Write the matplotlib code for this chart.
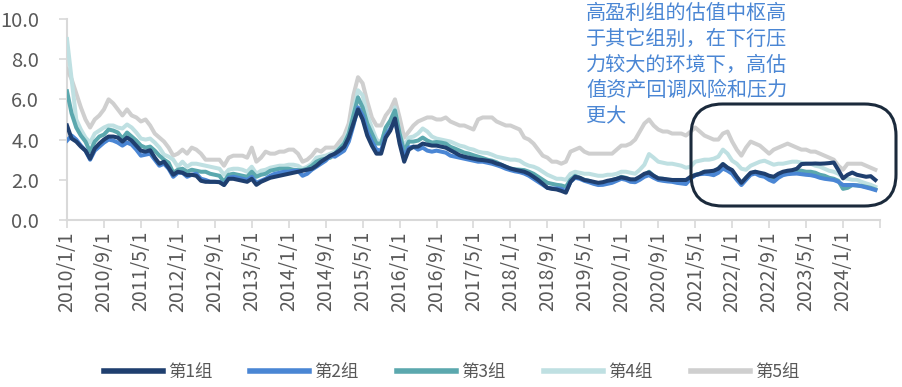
"""Valuation by profitability group, 2010-2024 (monthly), with annotation box."""
import matplotlib

matplotlib.use("Agg")
import matplotlib.pyplot as plt  # noqa: E402
import numpy as np  # noqa: E402
import pandas as pd  # noqa: E402
from matplotlib.patches import FancyBboxPatch  # noqa: E402

plt.rcParams["font.family"] = ["Noto Sans CJK SC", "DejaVu Sans"]

dates = pd.date_range("2010-01-01", periods=176, freq="MS")
series_names = ["第1组", "第2组", "第3组", "第4组", "第5组"]
colors = ["#1F3F6F", "#4A86D4", "#5BA8AE", "#BFE0E2", "#CFCFCF"]

# one row per calendar year (last row: 2024/1 - 2024/8)
g1 = [4.7, 4.05, 3.9, 3.65, 3.45, 3.05, 3.55, 3.8, 4.0, 4.15, 4.15, 4.1,
      3.9, 4.1, 3.95, 3.7, 3.45, 3.4, 3.47, 3.1, 2.8, 2.9, 2.6, 2.25,
      2.4, 2.35, 2.23, 2.25, 2.2, 1.95, 1.9, 1.9, 1.9, 1.88, 1.74, 2.05,
      2.05, 2.0, 1.95, 1.9, 2.05, 1.75, 1.9, 2.0, 2.1, 2.15, 2.2, 2.25,
      2.3, 2.35, 2.4, 2.45, 2.5, 2.55, 2.7, 2.9, 3.05, 3.2, 3.3, 3.45,
      3.64, 4.1, 4.8, 5.5, 5.0, 4.2, 3.7, 3.3, 3.3, 4.1, 4.45, 5.05,
      3.8, 2.9, 3.5, 3.64, 3.65, 3.8, 3.75, 3.7, 3.7, 3.65, 3.6, 3.47,
      3.35, 3.22, 3.15, 3.1, 3.05, 3.0, 2.98, 2.95, 2.9, 2.81, 2.75, 2.65,
      2.56, 2.5, 2.45, 2.4, 2.3, 2.15, 1.99, 1.8, 1.6, 1.55, 1.52, 1.45,
      1.36, 1.9, 2.15, 2.1, 1.99, 1.95, 1.9, 1.85, 1.88, 1.95, 1.99, 2.05,
      2.12, 2.08, 2.02, 2.02, 2.15, 2.3, 2.36, 2.2, 2.07, 2.05, 2.02, 1.99,
      1.99, 1.99, 1.99, 2.15, 2.23, 2.3, 2.4, 2.42, 2.45, 2.55, 2.78, 2.6,
      2.48, 2.15, 1.85, 2.1, 2.35, 2.4, 2.35, 2.3, 2.2, 2.15, 2.3, 2.4,
      2.45, 2.48, 2.55, 2.78, 2.8, 2.8, 2.81, 2.8, 2.81, 2.83, 2.86, 2.48,
      2.07, 2.25, 2.36, 2.25, 2.2, 2.15, 2.18, 1.99]
g2 = [3.95, 4.2, 4.0, 3.7, 3.45, 3.0, 3.45, 3.65, 3.85, 4.0, 3.95, 3.85,
      3.7, 3.85, 3.75, 3.5, 3.2, 3.25, 3.3, 3.0, 2.7, 2.8, 2.55, 2.15,
      2.35, 2.35, 2.15, 2.25, 2.3, 2.05, 1.99, 1.9, 1.9, 1.9, 1.75, 2.1,
      2.15, 2.1, 2.05, 1.99, 2.15, 1.85, 1.95, 2.05, 2.2, 2.3, 2.35, 2.4,
      2.4, 2.45, 2.45, 2.2, 2.3, 2.5, 2.65, 2.8, 2.95, 3.2, 3.15, 3.3,
      3.45, 3.9, 4.7, 5.6, 5.2, 4.4, 3.9, 3.5, 3.45, 4.2, 4.55, 4.95,
      3.95, 3.15, 3.6, 3.65, 3.5, 3.6, 3.45, 3.4, 3.45, 3.4, 3.35, 3.2,
      3.15, 3.1, 3.05, 3.0, 2.95, 2.9, 2.9, 2.85, 2.8, 2.73, 2.65, 2.55,
      2.48, 2.42, 2.38, 2.31, 2.2, 2.05, 1.9, 1.75, 1.6, 1.57, 1.57, 1.55,
      1.42, 1.9, 2.1, 2.05, 1.95, 1.88, 1.8, 1.74, 1.75, 1.8, 1.85, 1.95,
      2.05, 2.0, 1.9, 1.88, 2.0, 2.15, 2.23, 2.1, 1.99, 1.95, 1.92, 1.9,
      1.85, 1.82, 1.79, 2.05, 2.23, 2.28, 2.3, 2.28, 2.23, 2.35, 2.56, 2.45,
      2.3, 2.0, 1.74, 2.0, 2.25, 2.31, 2.2, 2.15, 2.0, 1.9, 2.1, 2.23,
      2.28, 2.3, 2.31, 2.28, 2.25, 2.23, 2.18, 2.1, 2.05, 2.02, 1.99, 1.9,
      1.74, 1.74, 1.74, 1.72, 1.68, 1.62, 1.56, 1.49]
g3 = [6.4, 5.3, 4.6, 4.2, 3.9, 3.4, 3.9, 4.15, 4.25, 4.5, 4.45, 4.35,
      4.05, 4.35, 4.15, 3.95, 3.7, 3.6, 3.65, 3.45, 3.2, 3.0, 2.85, 2.35,
      2.5, 2.55, 2.4, 2.5, 2.45, 2.4, 2.4, 2.3, 2.25, 2.2, 1.9, 2.25,
      2.3, 2.25, 2.2, 2.15, 2.4, 2.15, 2.25, 2.3, 2.45, 2.5, 2.55, 2.55,
      2.55, 2.5, 2.48, 2.48, 2.55, 2.7, 2.9, 3.0, 3.05, 3.1, 3.3, 3.55,
      3.8, 4.3, 5.2, 6.1, 5.6, 4.8, 4.3, 3.8, 3.8, 4.6, 4.95, 5.45,
      4.3, 3.4, 3.9, 3.9, 3.95, 4.1, 3.95, 3.85, 3.88, 3.85, 3.8, 3.64,
      3.55, 3.45, 3.35, 3.3, 3.22, 3.15, 3.08, 3.0, 2.95, 2.87, 2.75, 2.65,
      2.56, 2.52, 2.5, 2.48, 2.4, 2.3, 2.15, 2.0, 1.85, 1.8, 1.75, 1.72,
      1.65, 2.0, 2.2, 2.1, 2.0, 1.95, 1.85, 1.82, 1.85, 1.9, 1.99, 2.05,
      2.15, 2.1, 2.0, 1.99, 2.1, 2.25, 2.4, 2.2, 2.07, 2.05, 2.0, 1.99,
      1.95, 1.9, 1.85, 2.1, 2.25, 2.3, 2.4, 2.4, 2.4, 2.55, 2.78, 2.6,
      2.45, 2.1, 1.82, 2.1, 2.3, 2.4, 2.3, 2.23, 2.1, 1.99, 2.15, 2.3,
      2.35, 2.45, 2.48, 2.45, 2.4, 2.4, 2.35, 2.25, 2.2, 2.1, 2.05, 1.95,
      1.55, 1.6, 1.74, 1.72, 1.7, 1.65, 1.6, 1.52]
g4 = [9.0, 7.0, 5.0, 4.5, 4.1, 3.85, 4.3, 4.45, 4.6, 4.7, 4.7, 4.6,
      4.55, 4.75, 4.6, 4.35, 4.05, 4.0, 4.05, 3.85, 3.6, 3.25, 3.15, 3.0,
      2.65, 2.9, 2.65, 2.8, 2.8, 2.75, 2.7, 2.65, 2.6, 2.55, 2.25, 2.5,
      2.55, 2.55, 2.5, 2.4, 2.65, 2.3, 2.45, 2.5, 2.6, 2.65, 2.7, 2.7,
      2.75, 2.75, 2.7, 2.55, 2.65, 2.8, 3.1, 3.15, 3.2, 3.3, 3.4, 3.6,
      3.9, 4.5, 5.4, 6.45, 6.2, 5.2, 4.6, 4.0, 3.85, 4.55, 4.9, 5.6,
      4.4, 3.65, 4.1, 4.15, 4.3, 4.55, 4.4, 4.15, 4.05, 4.0, 3.95, 3.9,
      3.8, 3.7, 3.65, 3.55, 3.5, 3.4, 3.35, 3.33, 3.25, 3.15, 3.1, 3.05,
      3.0, 3.0, 2.95, 2.8, 2.7, 2.65, 2.55, 2.4, 2.25, 2.15, 2.05, 2.05,
      2.0, 2.3, 2.4, 2.35, 2.3, 2.3, 2.25, 2.2, 2.2, 2.25, 2.25, 2.3,
      2.4, 2.4, 2.35, 2.3, 2.5, 2.75, 3.28, 3.1, 2.9, 2.85, 2.8, 2.8,
      2.75, 2.7, 2.6, 2.65, 2.9, 2.95, 3.0, 3.0, 3.05, 3.15, 3.5, 3.3,
      2.95, 2.8, 2.55, 2.5, 2.7, 2.8, 2.9, 2.95, 2.85, 2.75, 2.8, 2.8,
      2.85, 2.9, 2.9, 2.85, 2.8, 2.8, 2.7, 2.65, 2.55, 2.45, 2.4, 2.3,
      2.1, 2.05, 2.0, 2.0, 1.9, 1.82, 1.75, 1.65]
g5 = [7.5, 7.0, 6.3, 5.6, 5.0, 4.6, 5.0, 5.2, 5.5, 6.0, 5.8, 5.5,
      5.2, 5.5, 5.2, 5.1, 4.9, 5.0, 4.7, 4.3, 4.1, 3.9, 3.6, 3.2,
      3.3, 3.5, 3.3, 3.6, 3.5, 3.3, 3.0, 3.0, 3.0, 3.0, 2.7, 3.1,
      3.2, 3.2, 3.2, 3.1, 3.6, 2.9, 3.1, 3.4, 3.3, 3.3, 3.4, 3.4,
      3.5, 3.5, 3.3, 2.9, 3.0, 3.2, 3.5, 3.4, 3.6, 3.6, 3.6, 3.9,
      4.2, 4.8, 6.2, 7.1, 6.8, 5.9, 5.1, 4.7, 4.7, 5.2, 5.5, 6.0,
      5.1, 4.1, 4.4, 4.7, 4.9, 5.0, 5.1, 5.1, 5.0, 5.0, 5.1, 4.9,
      4.8, 4.7, 4.7, 4.6, 4.5, 5.0, 5.1, 5.1, 5.1, 4.9, 4.8, 4.7,
      4.7, 4.6, 4.5, 4.1, 4.0, 3.8, 3.5, 3.2, 3.1, 2.9, 2.9, 2.8,
      2.9, 3.4, 3.5, 3.6, 3.4, 3.3, 3.3, 3.3, 3.3, 3.3, 3.3, 3.5,
      3.7, 3.7, 3.8, 4.0, 4.4, 4.8, 5.0, 4.7, 4.5, 4.4, 4.4, 4.3,
      4.3, 4.3, 4.2, 4.4, 4.6, 4.4, 4.2, 4.1, 4.0, 4.0, 4.3, 4.4,
      3.9, 3.5, 3.2, 3.6, 3.9, 3.8, 3.7, 3.5, 3.3, 3.5, 3.6, 3.7,
      3.8, 3.7, 3.6, 3.5, 3.5, 3.4, 3.4, 3.3, 3.2, 3.1, 3.0, 2.7,
      2.5, 2.8, 2.8, 2.8, 2.8, 2.7, 2.6, 2.5]

note = "高盈利组的估值中枢高\n于其它组别，在下行压\n力较大的环境下，高估\n值资产回调风险和压力\n更大"

grey_txt = "#595959"
axis_col = "#D9D9D9"

fig = plt.figure(figsize=(9.03, 3.87), dpi=100)
ax = fig.add_axes([0.0742, 0.4315, 0.9003, 0.5196])

x = np.arange(len(dates))
data = [g1, g2, g3, g4, g5]
for i in range(4, -1, -1):
    ax.plot(x, data[i], color=colors[i], lw=2.9, label=series_names[i],
            solid_joinstyle="round", zorder=3 + (4 - i) * 0.1)

ax.set_ylim(0, 10)
ax.set_yticks(np.arange(0, 10.1, 2))
ax.set_yticklabels([f"{v:.1f}" for v in np.arange(0, 10.1, 2)])
ax.set_xlim(0, len(dates))
ticks = np.arange(0, len(dates) + 1, 8)
ax.set_xticks(ticks)
ax.set_xticklabels([f"{dates[t].year}/{dates[t].month}/1" if t < len(dates) else ""
                    for t in ticks], rotation=90)

for s in ("top", "right"):
    ax.spines[s].set_visible(False)
for s in ("left", "bottom"):
    ax.spines[s].set_color(axis_col)
    ax.spines[s].set_linewidth(1.5)
ax.tick_params(axis="y", length=6, width=1.2, color=axis_col, labelsize=14.5,
               labelcolor=grey_txt, pad=14)
ax.tick_params(axis="x", length=6, width=1.2, color=axis_col, labelsize=14,
               labelcolor=grey_txt, pad=2)

handles, labels = ax.get_legend_handles_labels()
leg = fig.legend(handles[::-1], labels[::-1], loc="center", bbox_to_anchor=(0.5, 0.039),
                 ncol=5, frameon=False, fontsize=12.5, handlelength=3.4, handletextpad=0.3,
                 columnspacing=2.2)
for t in leg.get_texts():
    t.set_color(grey_txt)
for h in leg.legend_handles:
    h.set_linewidth(4)

fig.text(586 / 903, 1 - 3 / 387, note, ha="left", va="top", fontsize=14.5,
         color="#4A86D4", linespacing=1.3)

box = FancyBboxPatch((691 / 903, 1 - 206 / 387), 205 / 903, 102 / 387,
                     boxstyle="round,pad=0,rounding_size=0.035",
                     transform=fig.transFigure, fill=False, edgecolor="#1B2A3C",
                     linewidth=2.2, zorder=10, mutation_aspect=903 / 387)
fig.patches.append(box)

fig.savefig("out.png", dpi=100)
plt.close(fig)
